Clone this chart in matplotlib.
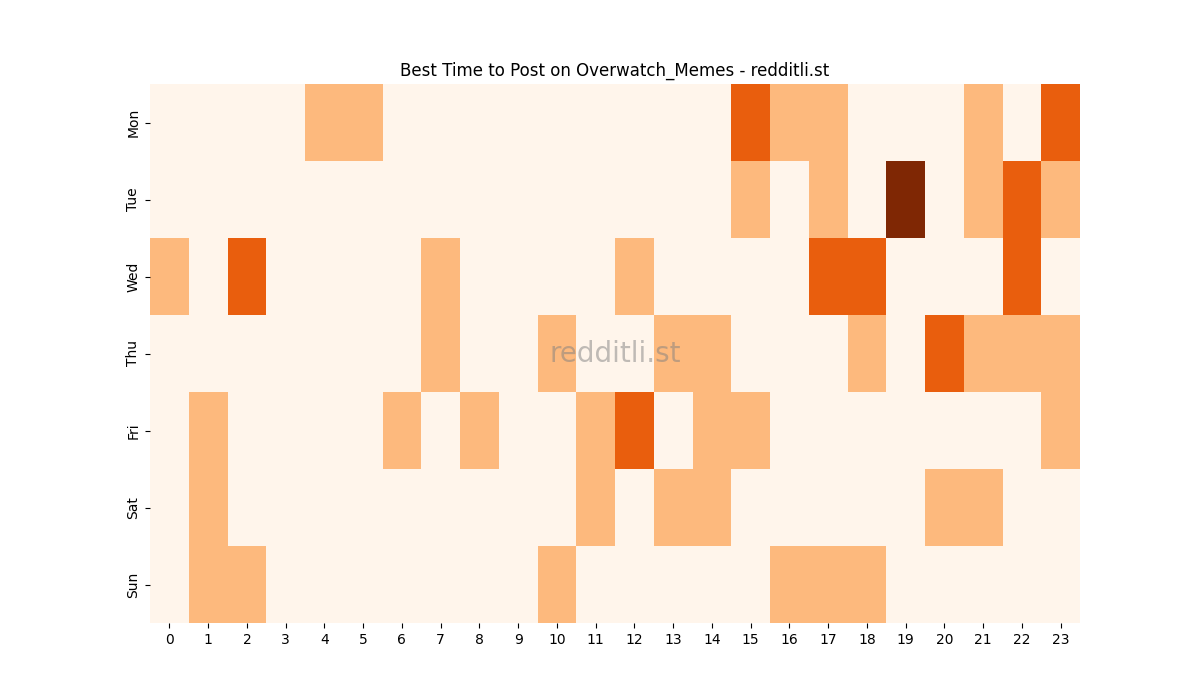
import numpy as np
import pandas as pd
import seaborn as sns
import matplotlib
matplotlib.use("Agg")
import matplotlib.pyplot as plt

days = ['Mon', 'Tue', 'Wed', 'Thu', 'Fri', 'Sat', 'Sun']
hours = list(range(24))

# post-score per hour (0..23) for each weekday
mon = [0, 0, 0, 0, 1, 1, 0, 0, 0, 0, 0, 0, 0, 0, 0, 2, 1, 1, 0, 0, 0, 1, 0, 2]
tue = [0, 0, 0, 0, 0, 0, 0, 0, 0, 0, 0, 0, 0, 0, 0, 1, 0, 1, 0, 3, 0, 1, 2, 1]
wed = [1, 0, 2, 0, 0, 0, 0, 1, 0, 0, 0, 0, 1, 0, 0, 0, 0, 2, 2, 0, 0, 0, 2, 0]
thu = [0, 0, 0, 0, 0, 0, 0, 1, 0, 0, 1, 0, 0, 1, 1, 0, 0, 0, 1, 0, 2, 1, 1, 1]
fri = [0, 1, 0, 0, 0, 0, 1, 0, 1, 0, 0, 1, 2, 0, 1, 1, 0, 0, 0, 0, 0, 0, 0, 1]
sat = [0, 1, 0, 0, 0, 0, 0, 0, 0, 0, 0, 1, 0, 1, 1, 0, 0, 0, 0, 0, 1, 1, 0, 0]
sun = [0, 1, 1, 0, 0, 0, 0, 0, 0, 0, 1, 0, 0, 0, 0, 0, 1, 1, 1, 0, 0, 0, 0, 0]

df = pd.DataFrame([mon, tue, wed, thu, fri, sat, sun], index=days, columns=hours)

fig, ax = plt.subplots(figsize=(12, 7), dpi=100)
sns.heatmap(df, cmap='Oranges', cbar=False, ax=ax)

ax.set_title("Best Time to Post on Overwatch_Memes - redditli.st")
ax.set_xlabel("")
ax.set_ylabel("")
plt.setp(ax.get_yticklabels(), rotation=90, va='center')
plt.setp(ax.get_xticklabels(), rotation=0)

# watermark
ax.text(0.5, 0.5, "redditli.st", transform=ax.transAxes, fontsize=20,
        color='gray', alpha=0.5, ha='center', va='center')

fig.savefig("out.png", dpi=100)
